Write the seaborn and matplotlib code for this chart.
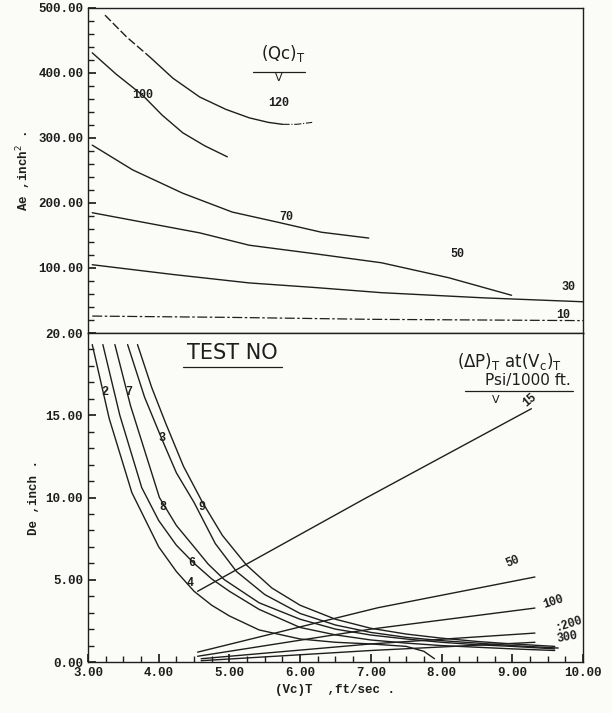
import numpy as np
import pandas as pd
import seaborn as sns
import matplotlib.pyplot as plt
from matplotlib.ticker import MultipleLocator, FormatStrFormatter

# ---- top panel: Ae (inch^2) vs (Vc)T, curves of (Qc)T ----
qc120_x = [3.24, 3.55, 3.87, 4.20, 4.58, 4.95, 5.28, 5.55, 5.75, 5.95, 6.17]
qc120_y = [489, 455, 425, 392, 363, 344, 331, 324, 321, 321, 324]
qc100_x = [3.06, 3.40, 3.77, 4.05, 4.34, 4.65, 4.97]
qc100_y = [431, 398, 366, 335, 308, 288, 271]
qc70_x = [3.06, 3.63, 4.34, 5.04, 5.70, 6.30, 6.97]
qc70_y = [289, 251, 215, 186, 170, 155, 146]
qc50_x = [3.06, 4.58, 5.28, 6.20, 7.15, 8.10, 8.99]
qc50_y = [185, 154, 135, 122, 108, 85, 58]
qc30_x = [3.06, 4.20, 5.28, 6.20, 7.15, 8.60, 10.0]
qc30_y = [105, 90, 77, 70, 62, 54, 48]
qc10_x = [3.06, 5.00, 7.00, 10.0]
qc10_y = [26, 24, 21, 19]

# ---- bottom panel: De (inch) vs (Vc)T ----
de_a_x = [3.06, 3.30, 3.62, 4.00, 4.25, 4.50, 4.75, 5.00, 5.42, 6.00, 6.50, 7.00, 7.50, 7.75, 7.90]
de_a_y = [19.3, 14.8, 10.3, 7.0, 5.5, 4.3, 3.45, 2.8, 1.95, 1.4, 1.2, 1.1, 0.95, 0.65, 0.2]
de_b_x = [3.21, 3.45, 3.76, 4.00, 4.25, 4.50, 4.75, 5.00, 5.42, 6.00, 6.50, 7.00, 7.50, 8.00, 8.50, 9.00, 9.60]
de_b_y = [19.3, 15.0, 10.6, 8.6, 7.1, 6.0, 5.05, 4.3, 3.2, 2.1, 1.65, 1.34, 1.15, 1.0, 0.9, 0.8, 0.7]
de_c_x = [3.38, 3.60, 4.01, 4.25, 4.50, 4.70, 4.93, 5.42, 6.00, 6.50, 7.00, 7.50, 8.00, 8.50, 9.00, 9.60]
de_c_y = [19.3, 15.6, 10.0, 8.3, 7.0, 5.95, 5.0, 3.6, 2.6, 2.0, 1.64, 1.4, 1.2, 1.05, 0.95, 0.8]
de_d_x = [3.56, 3.80, 4.04, 4.25, 4.50, 4.80, 5.10, 5.50, 6.00, 6.50, 7.00, 7.50, 8.00, 8.50, 9.00, 9.65]
de_d_y = [19.3, 16.1, 13.6, 11.5, 9.7, 7.2, 5.5, 4.1, 2.95, 2.25, 1.8, 1.5, 1.3, 1.15, 1.0, 0.85]
de_e_x = [3.70, 3.90, 4.10, 4.35, 4.62, 4.90, 5.24, 5.60, 6.00, 6.50, 7.00, 7.50, 8.00, 8.50, 9.00, 9.60]
de_e_y = [19.3, 16.7, 14.5, 11.9, 9.7, 7.7, 5.9, 4.5, 3.45, 2.6, 2.05, 1.7, 1.45, 1.25, 1.1, 0.95]

dp15_x = [4.55, 6.90, 9.27]
dp15_y = [4.3, 9.9, 15.4]
dp50_x = [4.55, 7.10, 9.32]
dp50_y = [0.6, 3.3, 5.17]
dp100_x = [4.55, 7.00, 9.32]
dp100_y = [0.35, 2.0, 3.28]
dp200_x = [4.60, 7.00, 9.32]
dp200_y = [0.2, 1.1, 1.76]
dp300_x = [4.60, 7.00, 9.32]
dp300_y = [0.08, 0.7, 1.2]

test_labels = ["2", "7", "3", "8", "9", "6", "4"]
test_label_x = [3.24, 3.57, 4.05, 4.06, 4.61, 4.47, 4.44]
test_label_y = [16.4, 16.4, 13.6, 9.4, 9.4, 6.0, 4.8]

sns.set_theme(style="ticks")
plt.rcParams['font.family'] = ['DejaVu Sans', 'Noto Sans']
ink = '#1e1e1e'
mono = 'Liberation Mono'

fig = plt.figure(figsize=(6.12, 7.13), dpi=100)
fig.patch.set_facecolor('#fbfbf8')
ax_top = fig.add_axes([0.1438, 0.5330, 0.8088, 0.4558])
ax_bot = fig.add_axes([0.1438, 0.0715, 0.8088, 0.4614])


def curve(ax, xs, ys, ls='-', lw=1.0):
    sns.lineplot(x=xs, y=ys, ax=ax, color=ink, lw=lw, linestyle=ls,
                 sort=False, estimator=None)


# top panel curves
curve(ax_top, qc120_x[:3], qc120_y[:3], ls=(0, (6, 2)))
curve(ax_top, qc120_x[2:9], qc120_y[2:9])
curve(ax_top, qc120_x[8:], qc120_y[8:], ls='-.', lw=0.8)
curve(ax_top, qc100_x, qc100_y)
curve(ax_top, qc70_x, qc70_y)
curve(ax_top, qc50_x, qc50_y)
curve(ax_top, qc30_x, qc30_y)
curve(ax_top, qc10_x, qc10_y, ls=(0, (8, 2, 2, 2)), lw=0.9)

tk = dict(fontsize=8.5, family=mono, color=ink, fontweight='bold')
ax_top.text(3.78, 366, "100", ha='center', va='center', **tk)
ax_top.text(5.69, 354, "120", ha='center', va='center', **tk)
ax_top.text(5.81, 178, "70", ha='center', va='center', **tk)
ax_top.text(8.22, 121, "50", ha='center', va='center', **tk)
ax_top.text(9.79, 71, "30", ha='center', va='center', **tk)
ax_top.text(9.72, 28, "10", ha='center', va='center', **tk)
ax_top.text(5.76, 430, r"$(\mathrm{Qc})_\mathrm{T}$", ha='center', va='center',
            fontsize=12, color=ink)
ax_top.plot([5.33, 6.07], [402, 402], color=ink, lw=0.9)
ax_top.text(5.70, 392, "V", ha='center', va='center', fontsize=8, color=ink)

# bottom panel curves
for xs, ys in [(de_a_x, de_a_y), (de_b_x, de_b_y), (de_c_x, de_c_y),
               (de_d_x, de_d_y), (de_e_x, de_e_y)]:
    curve(ax_bot, xs, ys)
for xs, ys in [(dp15_x, dp15_y), (dp50_x, dp50_y), (dp100_x, dp100_y),
               (dp200_x, dp200_y), (dp300_x, dp300_y)]:
    curve(ax_bot, xs, ys)

for lab, lx, ly in zip(test_labels, test_label_x, test_label_y):
    ax_bot.text(lx, ly, lab, ha='center', va='center', **tk)

ax_bot.text(9.25, 15.9, "15", ha='center', va='center', rotation=40, **tk)
ax_bot.text(9.01, 6.1, "50", ha='center', va='center', rotation=22, **tk)
ax_bot.text(9.58, 3.65, "100", ha='center', va='center', rotation=18, **tk)
ax_bot.text(9.79, 2.3, ":200", ha='center', va='center', rotation=18, **tk)
ax_bot.text(9.78, 1.5, "300", ha='center', va='center', rotation=10, **tk)

ax_bot.text(5.04, 18.8, "TEST NO", ha='center', va='center', fontsize=15,
            color=ink, family='DejaVu Sans')
ax_bot.plot([4.35, 5.75], [17.95, 17.95], color=ink, lw=0.9)
ax_bot.text(8.96, 18.3, r"$(\Delta \mathrm{P})_\mathrm{T}$ at$(\mathrm{V_c})_\mathrm{T}$",
            ha='center', va='center', fontsize=12, color=ink)
ax_bot.text(9.22, 17.1, "Psi/1000 ft.", ha='center', va='center', fontsize=11,
            color=ink)
ax_bot.plot([8.33, 9.86], [16.45, 16.45], color=ink, lw=0.9)
ax_bot.text(8.77, 15.95, "V", ha='center', va='center', fontsize=8, color=ink)

# axes styling
for ax in (ax_top, ax_bot):
    ax.set_facecolor('#fbfbf8')
    ax.set_xlim(3, 10)
    for sp in ax.spines.values():
        sp.set_color(ink)
        sp.set_linewidth(1.0)
        sp.set_visible(True)
    ax.tick_params(direction='in', which='both', colors=ink, labelsize=9,
                   top=False, right=False)
    ax.tick_params(which='major', length=6)
    ax.tick_params(which='minor', length=4)

ax_top.set_ylim(0, 500)
ax_top.yaxis.set_minor_locator(MultipleLocator(20))
ax_top.yaxis.set_major_formatter(FormatStrFormatter('%.2f'))
ax_top.set_yticks([100, 200, 300, 400, 500])
ax_top.tick_params(axis='x', which='both', bottom=False, labelbottom=False)

ax_bot.set_ylim(0, 20)
ax_bot.yaxis.set_major_locator(MultipleLocator(5))
ax_bot.yaxis.set_minor_locator(MultipleLocator(1))
ax_bot.yaxis.set_major_formatter(FormatStrFormatter('%.2f'))
ax_bot.xaxis.set_major_locator(MultipleLocator(1))
ax_bot.xaxis.set_minor_locator(MultipleLocator(0.25))
ax_bot.xaxis.set_major_formatter(FormatStrFormatter('%.2f'))

for ax in (ax_top, ax_bot):
    for t in ax.get_xticklabels() + ax.get_yticklabels():
        t.set_family(mono)
        t.set_fontweight('bold')

lab = dict(fontsize=9, family=mono, fontweight='bold', color=ink)
ax_top.set_ylabel("Ae ,inch$^2$ .", labelpad=4, **lab)
ax_bot.set_ylabel("De ,inch .", labelpad=4, **lab)
ax_bot.set_xlabel("(Vc)T  ,ft/sec .", labelpad=4, **lab)

plt.savefig("out.png", dpi=100, facecolor=fig.get_facecolor())
plt.close()
